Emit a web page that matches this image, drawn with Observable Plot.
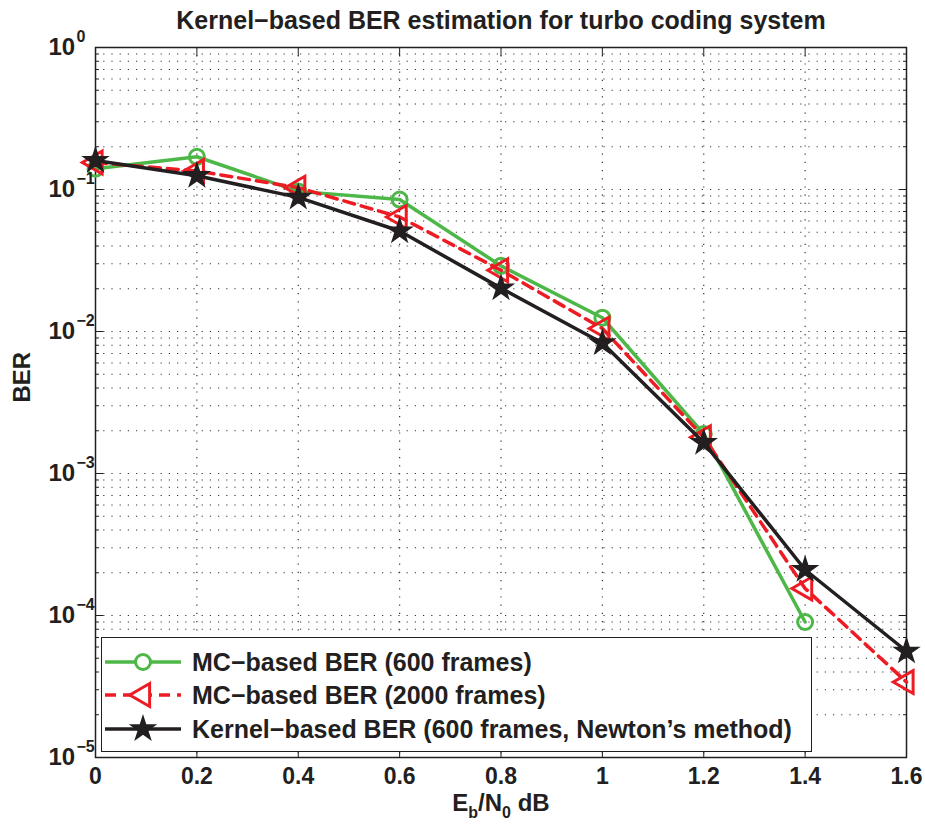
<!DOCTYPE html>
<html><head><meta charset="utf-8">
<script src="https://cdn.jsdelivr.net/npm/d3@7"></script>
<script src="https://cdn.jsdelivr.net/npm/@observablehq/plot@0.6"></script>
<style>
body{margin:0;background:#fff;}
#wrap{position:relative;width:925px;height:825px;font-family:"Liberation Sans",Arial,sans-serif;color:#231F20;}
#legend{position:absolute;left:101px;top:637px;width:711px;height:115px;border:1.5px solid #231F20;background:#fff;box-sizing:border-box;}
.row{position:absolute;left:0;height:34px;display:flex;align-items:center;}
.row svg{display:block;}
.row span{font-weight:bold;font-size:25px;margin-left:10px;white-space:nowrap;}
</style></head><body><div id="wrap"></div><script>
const ebno = [0, 0.2, 0.4, 0.6, 0.8, 1.0, 1.2, 1.4, 1.6];
const berMC600 = [0.14, 0.17, 0.097, 0.085, 0.029, 0.0125, 0.0019, 9.0e-5];
const berMC2000 = [0.155, 0.135, 0.103, 0.064, 0.027, 0.0105, 0.0018, 1.55e-4, 3.4e-5];
const berKernel = [0.16, 0.125, 0.088, 0.051, 0.0202, 0.0083, 0.00165, 2.1e-4, 5.6e-5];
const seriesNames = ["MC\u2212based BER (600 frames)", "MC\u2212based BER (2000 frames)", "Kernel\u2212based BER (600 frames, Newton\u2019s method)"];
const seriesColors = ["#4DB748", "#ED1C24", "#231F20"];
const xTicks = [0, 0.2, 0.4, 0.6, 0.8, 1.0, 1.2, 1.4, 1.6];
const xTickLabels = ["0", "0.2", "0.4", "0.6", "0.8", "1", "1.2", "1.4", "1.6"];
const yExponents = [0, -1, -2, -3, -4, -5];
const minorMantissas = [2, 3, 4, 5, 6, 7, 8, 9];
const titleText = "Kernel\u2212based BER estimation for turbo coding system";
const yLabelText = "BER";

const majorY = yExponents.map(e => Math.pow(10, e));
const minorY = yExponents.slice(1).flatMap(e => minorMantissas.map(m => m * Math.pow(10, e)));
const toRows = arr => arr.map((v, i) => ({x: ebno[i], y: v}));
const d600 = toRows(berMC600), d2000 = toRows(berMC2000), dK = toRows(berKernel);
const FONT = "Liberation Sans, Arial, sans-serif";
const ink = "#231F20";
const grid = {stroke: ink, strokeWidth: 1.2, strokeDasharray: "1.2,7", strokeOpacity: 0.9};

const chart = Plot.plot({
  width: 925, height: 825,
  marginTop: 47, marginBottom: 68, marginLeft: 95, marginRight: 19,
  style: {fontFamily: FONT, color: ink, background: "#fff"},
  x: {domain: [0, 1.6], axis: null},
  y: {type: "log", domain: [1e-5, 1], axis: null},
  marks: [
    Plot.ruleX(xTicks.slice(1, -1), grid),
    Plot.ruleY(majorY.slice(1, -1).concat(minorY), grid),
    Plot.axisX(xTicks, {anchor: "bottom", tickSize: 8, dy: -8, tickFormat: () => "", label: null, stroke: ink}),
    Plot.axisX(xTicks, {anchor: "top", tickSize: 8, dy: 8, tickFormat: () => "", label: null, stroke: ink}),
    Plot.axisY(majorY, {anchor: "left", tickSize: 8, dx: 8, tickFormat: () => "", label: null, stroke: ink}),
    Plot.axisY(minorY, {anchor: "left", tickSize: 4, dx: 4, tickFormat: () => "", label: null, stroke: ink}),
    Plot.axisY(majorY, {anchor: "right", tickSize: 8, dx: -8, tickFormat: () => "", label: null, stroke: ink}),
    Plot.axisY(minorY, {anchor: "right", tickSize: 4, dx: -4, tickFormat: () => "", label: null, stroke: ink}),
    Plot.frame({stroke: ink, strokeWidth: 1.5}),
    // series
    Plot.line(d600, {x: "x", y: "y", stroke: seriesColors[0], strokeWidth: 3.5}),
    Plot.dot(d600, {x: "x", y: "y", symbol: "circle", r: 7.5, stroke: seriesColors[0], strokeWidth: 3, fill: "none"}),
    Plot.line(d2000, {x: "x", y: "y", stroke: seriesColors[1], strokeWidth: 3.5, strokeDasharray: "11,7"}),
    Plot.dot(d2000, {x: "x", y: "y", symbol: "triangle", rotate: -90, r: 8.5, stroke: seriesColors[1], strokeWidth: 3, fill: "none"}),
    Plot.line(dK, {x: "x", y: "y", stroke: seriesColors[2], strokeWidth: 3.5}),
    Plot.dot(dK, {x: "x", y: "y", symbol: "star", r: 7.5, stroke: seriesColors[2], strokeWidth: 1.5, fill: seriesColors[2]}),
    // tick labels
    Plot.text(xTicks, {x: d => d, frameAnchor: "bottom", dy: 19, text: (d, i) => xTickLabels[i], fontSize: 23, fontWeight: "bold", fill: ink, lineAnchor: "middle"}),
    Plot.text(yExponents, {x: () => 0, y: e => Math.pow(10, e), text: () => "10", dx: -47, textAnchor: "start", fontSize: 24, fontWeight: "bold", fill: ink, lineAnchor: "middle"}),
    Plot.text(yExponents, {x: () => 0, y: e => Math.pow(10, e), text: e => e === 0 ? "0" : "\u2212" + (-e), dx: -19, dy: -11, textAnchor: "start", fontSize: 16, fontWeight: "bold", fill: ink, lineAnchor: "middle"}),
    // titles
    Plot.text([titleText], {frameAnchor: "top", dy: -27, text: d => d, fontSize: 25, fontWeight: "bold", fill: ink, lineAnchor: "middle"}),
    Plot.text([yLabelText], {frameAnchor: "left", dx: -73, rotate: -90, text: d => d, fontSize: 24, fontWeight: "bold", fill: ink, lineAnchor: "middle"}),
    Plot.text(["Eb/N0 dB"], {frameAnchor: "bottom", dy: 46, text: d => d, fontSize: 24, fontWeight: "bold", fill: ink, lineAnchor: "middle", className: "xlabel"})
  ]
});

// subscripts in x label
const xl = d3.select(chart).select(".xlabel text");
xl.text(null);
xl.append("tspan").text("E");
xl.append("tspan").attr("dy", 7).attr("font-size", 16).text("b");
xl.append("tspan").attr("dy", -7).text("/N");
xl.append("tspan").attr("dy", 7).attr("font-size", 16).text("0");
xl.append("tspan").attr("dy", -7).text(" dB");

const wrap = document.getElementById("wrap");
wrap.appendChild(chart);

// legend
const legend = document.createElement("div");
legend.id = "legend";
wrap.appendChild(legend);
const rowTops = [7, 40, 74];
const symbols = [d3.symbolCircle, d3.symbolTriangle, d3.symbolStar];
seriesNames.forEach((name, i) => {
  const row = document.createElement("div");
  row.className = "row";
  row.style.top = rowTops[i] + "px";
  const s = d3.create("svg").attr("width", 80).attr("height", 34);
  s.append("line").attr("x1", 3).attr("x2", 79).attr("y1", 17).attr("y2", 17)
    .attr("stroke", seriesColors[i]).attr("stroke-width", 3.5)
    .attr("stroke-dasharray", i === 1 ? "11,7" : null);
  const size = i === 1 ? Math.PI * 8.5 * 8.5 : Math.PI * 7.5 * 7.5;
  s.append("path").attr("d", d3.symbol(symbols[i], size)())
    .attr("transform", `translate(41,17)${i === 1 ? " rotate(-90)" : ""}`)
    .attr("fill", i === 2 ? seriesColors[2] : "#fff")
    .attr("stroke", seriesColors[i]).attr("stroke-width", i === 2 ? 1.5 : 3);
  row.appendChild(s.node());
  const t = document.createElement("span");
  t.textContent = name;
  row.appendChild(t);
  legend.appendChild(row);
});
</script></body></html>
